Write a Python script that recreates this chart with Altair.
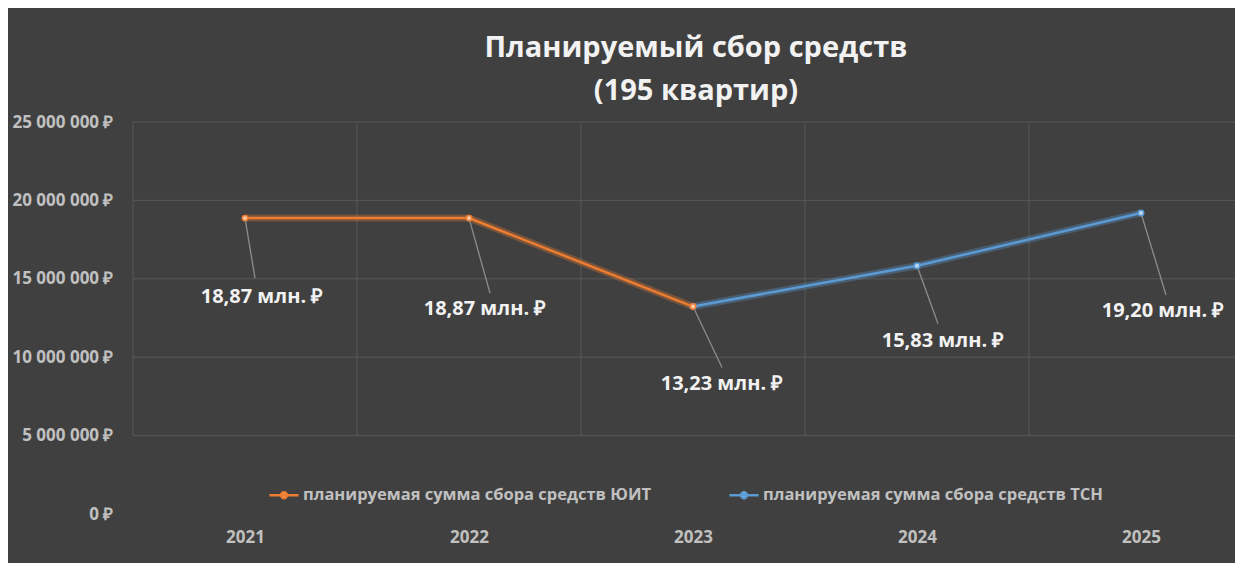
import altair as alt
import pandas as pd

# ---- data ----
years = [2021, 2022, 2023, 2024, 2025]
uit_values = [18870000, 18870000, 13230000, None, None]
tsn_values = [None, None, 13230000, 15830000, 19200000]
series_names = ["планируемая сумма сбора средств ЮИТ", "планируемая сумма сбора средств ТСН"]
label_values = [18870000, 18870000, 13230000, 15830000, 19200000]
label_texts = ["18,87 млн. ₽", "18,87 млн. ₽", "13,23 млн. ₽", "15,83 млн. ₽", "19,20 млн. ₽"]
y_ticks = [0, 5000000, 10000000, 15000000, 20000000, 25000000]
grid_values = [5000000, 10000000, 15000000, 20000000, 25000000]
grid_years = [2020.5, 2021.5, 2022.5, 2023.5, 2024.5]
title_lines = ["Планируемый сбор средств", "(195 квартир)"]

# ---- layout (pixels) ----
W, H = 1102, 392
PX_PER_YEAR = 224
Y_MAX = 25000000
label_dx_px = [17, 16, 29, 26, 22]
label_dy_px = [79, 91, 77, 75, 98]
leader_dx_px = [10, 21, 29, 21, 25]
leader_dy_px = [60, 75, 61, 58, 82]

ORANGE = "#ED7D31"
BLUE = "#5B9BD5"
ORANGE_L = "#F8CBAD"
BLUE_L = "#BDD7EE"
FONT = "Open Sans"

rows = []
for yr, v in zip(years, uit_values):
    if v is not None:
        rows.append({"year": yr, "value": v, "series": series_names[0]})
for yr, v in zip(years, tsn_values):
    if v is not None:
        rows.append({"year": yr, "value": v, "series": series_names[1]})
df = pd.DataFrame(rows)

lab = pd.DataFrame({
    "year": years, "value": label_values, "text": label_texts,
    "ldx": label_dx_px, "ldy": label_dy_px,
    "rdx": leader_dx_px, "rdy": leader_dy_px,
})

x_scale = alt.Scale(domain=[2020.5, 2020.5 + W / PX_PER_YEAR], nice=False, zero=False)
y_scale = alt.Scale(domain=[0, Y_MAX], nice=False)
px_per_val = H / Y_MAX

color_scale = alt.Scale(domain=series_names, range=[ORANGE, BLUE])

legend_symbol = "M-1,0H1M-0.2,0A0.2,0.2,0,1,1,0.2,0A0.2,0.2,0,1,1,-0.2,0Z"
legend = alt.Legend(
    orient="none", legendX=135, legendY=357, direction="horizontal",
    title=None, symbolType=legend_symbol, symbolSize=841,
    symbolStrokeWidth=2.5, symbolFillColor="#E8E8E8", symbolOpacity=1,
    labelFont=FONT, labelFontSize=16.5, labelFontWeight="bold",
    labelColor="#C0C0C0", labelOffset=3, columnPadding=72,
    labelLimit=600,
)

x_axis = alt.Axis(values=years, format="d", grid=False, domain=False, ticks=False,
                  labelPadding=15, labelFont=FONT, labelFontSize=17, labelFontWeight="bold",
                  labelColor="#C0C0C0", title=None)
y_axis = alt.Axis(values=y_ticks, grid=False, domain=False, ticks=False, labelPadding=20,
                  labelExpr="replace(format(datum.value, ',d'), /,/g, ' ') + ' ₽'",
                  labelFont=FONT, labelFontSize=17, labelFontWeight="bold",
                  labelColor="#C0C0C0", title=None)

base = alt.Chart(df)

hgrid = alt.Chart(pd.DataFrame({"g": grid_values})).mark_rule(
    color="#575757", strokeWidth=1
).encode(
    y=alt.Y("g:Q", scale=y_scale, axis=y_axis),
    x=alt.value(0), x2=alt.value(W),
)

vgrid = alt.Chart(pd.DataFrame({"gx": grid_years})).mark_rule(
    color="#575757", strokeWidth=1
).encode(
    x=alt.X("gx:Q", scale=x_scale, axis=x_axis),
    y=alt.datum(25000000), y2=alt.datum(5000000),
)

glow = base.mark_line(strokeWidth=7, opacity=0.33).encode(
    x=alt.X("year:Q", scale=x_scale, axis=x_axis),
    y=alt.Y("value:Q", scale=y_scale, axis=y_axis),
    color=alt.Color("series:N", scale=color_scale, legend=legend),
)

lines = base.mark_line(strokeWidth=2.5).encode(
    x=alt.X("year:Q", scale=x_scale, axis=x_axis),
    y=alt.Y("value:Q", scale=y_scale, axis=y_axis),
    color=alt.Color("series:N", scale=color_scale, legend=legend),
)

points = base.mark_circle(size=30, strokeWidth=1.5, opacity=1).encode(
    x=alt.X("year:Q", scale=x_scale),
    y=alt.Y("value:Q", scale=y_scale),
    fill=alt.Fill("series:N", scale=alt.Scale(domain=series_names, range=[ORANGE_L, BLUE_L]), legend=None),
    stroke=alt.Stroke("series:N", scale=alt.Scale(domain=series_names, range=[ORANGE, BLUE]), legend=None),
    order=alt.Order("series:N"),
)

labbase = alt.Chart(lab).transform_calculate(
    lx=f"datum.year + datum.ldx / {PX_PER_YEAR}",
    ly=f"datum.value - datum.ldy / {px_per_val}",
    rx=f"datum.year + datum.rdx / {PX_PER_YEAR}",
    ry=f"datum.value - datum.rdy / {px_per_val}",
)

leaders = labbase.mark_rule(color="#8C8C8C", strokeWidth=1.3).encode(
    x=alt.X("year:Q", scale=x_scale),
    y=alt.Y("value:Q", scale=y_scale),
    x2="rx:Q", y2="ry:Q",
)

labels = labbase.mark_text(
    font=FONT, fontSize=20, fontWeight="bold", color="#F2F2F2",
    align="center", baseline="middle",
).encode(
    x=alt.X("lx:Q", scale=x_scale),
    y=alt.Y("ly:Q", scale=y_scale),
    text="text:N",
)

chart = alt.layer(hgrid, vgrid, glow, leaders, lines, points, labels).properties(
    width=W, height=H,
    title=alt.TitleParams(
        title_lines, font=FONT, fontSize=29, fontWeight="bold", color="#F2F2F2",
        anchor="middle", offset=7, lineHeight=43, dx=12,
    ),
    background="#404040",
    autosize=alt.AutoSizeParams(type="none"),
    padding={"left": 125, "top": 114, "right": 0, "bottom": 49},
).configure_view(stroke=None)

chart.save("out.html", embed_options={"renderer": "svg", "actions": False})
